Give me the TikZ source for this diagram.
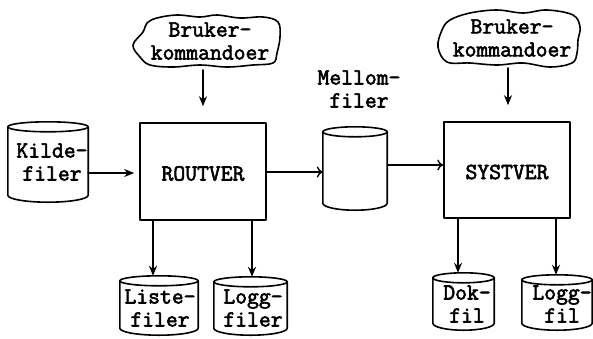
\documentclass[tikz,border=0pt]{standalone}
\usepackage{fontspec}
\newfontfamily\tyfont[FakeBold=2.5]{Latin Modern Mono}
\usetikzlibrary{arrows.meta,calc}
\tikzset{
  ln/.style={line width=1.6pt, line join=round, line cap=round},
  txt/.style={font=\tyfont\fontsize{23}{23}\selectfont, align=center, inner sep=0pt},
  box/.style={ln, draw, rectangle, inner sep=0pt},
  cylbox/.style={rectangle, inner sep=0pt},
  farr/.style={ln, -{Stealth[length=10pt,width=8pt]}},
  oarr/.style={ln, -{To[length=6pt,width=11pt,line width=1.4pt]}},
}
\newcommand\drawcyl[1]{%
  \draw[ln] let \p1=(#1.north west), \p2=(#1.south east), \n1={(\x2-\x1)/2} in
    (#1.north west) -- (#1.south west)
    arc[start angle=180, end angle=360, x radius=\n1, y radius=7pt]
    -- (#1.north east);
  \draw[ln] let \p1=(#1.north west), \p2=(#1.south east), \n1={(\x2-\x1)/2} in
    (#1.north) ellipse[x radius=\n1, y radius=5pt];
}
\begin{document}
\begin{tikzpicture}[x=1pt,y=-1pt]
\useasboundingbox (0,0) rectangle (593,338);

% clouds
\draw[ln] plot[smooth cycle, tension=0.6] coordinates {
 (133,45) (143,32) (147,23) (157,18) (177,15) (200,17) (217,15) (240,18) (263,17) (278,22)
 (280,37) (277,53) (273,63) (253,65) (227,67) (200,65) (173,67) (150,65) (140,57)};
\node[txt] (cmd1) at (210,41) {Bruker-\\kommandoer};
\draw[ln] plot[smooth cycle, tension=0.6] coordinates {
 (438,47) (442,30) (450,20) (470,13) (497,10) (523,13) (547,10) (573,15) (580,27)
 (578,40) (577,53) (572,63) (550,67) (523,63) (497,65) (470,63) (447,62)};
\node[txt] (cmd2) at (512,38) {Bruker-\\kommandoer};
\coordinate (c1b) at (203,70);
\coordinate (c2b) at (508,68);

% boxes
\node[box, minimum width=126pt, minimum height=97pt] (routver) at (203,171.5) {};
\node[txt] at ([yshift=-2pt]routver.center) {ROUTVER};
\node[box, minimum width=126pt, minimum height=96pt] (systver) at (507,170) {};
\node[txt] at ([yshift=-2pt]systver.center) {SYSTVER};

% cylinders
\node[cylbox, minimum width=80pt, minimum height=68pt] (kilde) at (48,161) {};
\drawcyl{kilde}
\node[txt] (kildet) at (52,162) {Kilde-\\filer};

\node[cylbox, minimum width=64pt, minimum height=71pt] (mellom) at (355,167.5) {};
\drawcyl{mellom}
\node[txt] (mellomt) at (359,89) {Mellom-\\filer};

\node[cylbox, minimum width=78pt, minimum height=47pt] (liste) at (159,304.5) {};
\drawcyl{liste}
\node[txt] at (160,308) {Liste-\\filer};

\node[cylbox, minimum width=73pt, minimum height=46pt] (logg1) at (250.5,305) {};
\drawcyl{logg1}
\node[txt] at (253,308) {Logg-\\filer};

\node[cylbox, minimum width=61pt, minimum height=45pt] (dok) at (463.5,300.5) {};
\drawcyl{dok}
\node[txt] at (467,304) {Dok-\\fil};

\node[cylbox, minimum width=70pt, minimum height=43pt] (logg2) at (557,301.5) {};
\drawcyl{logg2}
\node[txt] at (562,304) {Logg-\\fil};

% arrows
\draw[farr] (c1b) -- ([yshift=16pt]routver.north -| c1b);
\draw[farr] (c2b) -- ([yshift=16pt]systver.north -| c2b);
\draw[farr] ([yshift=-12pt]kilde.east) -- ([xshift=-5pt,yshift=-12pt]kilde.east -| routver.west);
\draw[oarr] ([yshift=-0.5pt]routver.east) -- ([yshift=-0.5pt]routver.east -| mellom.west);
\draw[oarr] ([yshift=2.5pt]mellom.east) -- ([yshift=2.5pt]mellom.east -| systver.west);
\draw[farr] ([xshift=-6pt]liste.north |- routver.south) -- ([xshift=-6pt,yshift=5pt]liste.north);
\draw[farr] ([xshift=1.5pt]logg1.north |- routver.south) -- ([xshift=1.5pt,yshift=5pt]logg1.north);
\draw[farr] ([xshift=-5.5pt]dok.north |- systver.south) -- ([xshift=-5.5pt,yshift=5pt]dok.north);
\draw[farr] ([xshift=-1pt]logg2.north |- systver.south) -- ([xshift=-1pt,yshift=5pt]logg2.north);
\end{tikzpicture}
\end{document}
